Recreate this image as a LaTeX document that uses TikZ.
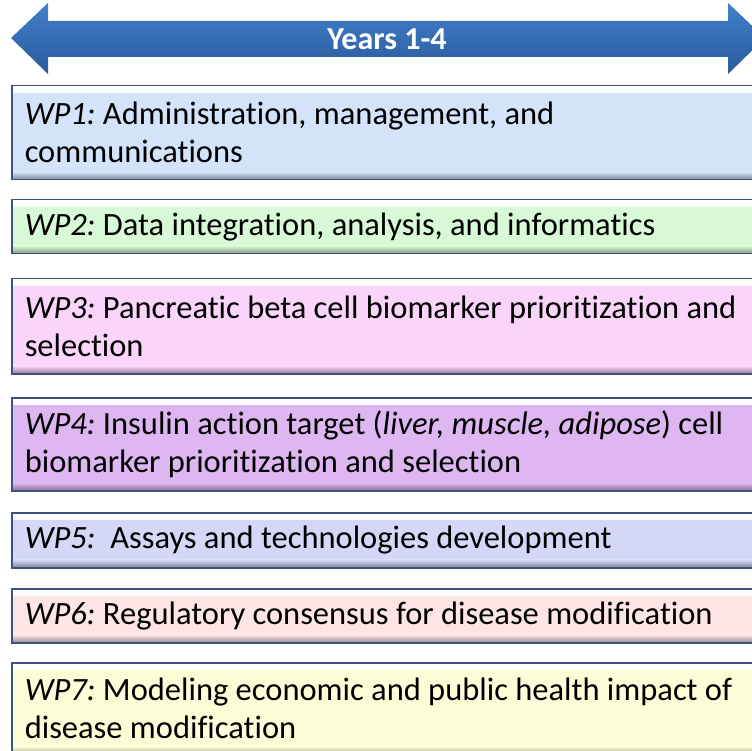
\documentclass[tikz,border=0pt]{standalone}
\usepackage{fontspec}
\setmainfont{Carlito}[Ligatures=NoCommon]
\usetikzlibrary{positioning}
\definecolor{wpborder}{HTML}{3C5384}
\definecolor{arrowtop}{HTML}{4080CC}
\definecolor{arrowbot}{HTML}{2A5A9C}
\definecolor{wpblue}{HTML}{D2E3FA}
\definecolor{wpgreen}{HTML}{D7F9D5}
\definecolor{wppink}{HTML}{FAD4FA}
\definecolor{wppurple}{HTML}{DDB6F2}
\definecolor{wplav}{HTML}{D5D7F7}
\definecolor{wprose}{HTML}{FDE5E5}
\definecolor{wpyellow}{HTML}{FCFDD6}

\tikzset{
  wpbox/.style={draw=wpborder,line width=1.5pt,fill=#1,anchor=north west,
    text width=730pt,align=left,inner ysep=0pt,inner xsep=13pt,
    font=\fontsize{32.5}{38}\selectfont,
    execute at begin node={\spaceskip=0.226em\xspaceskip=0.226em\relax},
    path picture={
      \shade[top color=white,bottom color=#1]
        (path picture bounding box.north west) rectangle ([yshift=-7pt]path picture bounding box.north east);
      \shade[top color=#1,bottom color=black!40!#1]
        ([yshift=8pt]path picture bounding box.south west) rectangle (path picture bounding box.south east);
    }},
  yearstext/.style={text=white,font=\fontsize{32}{36}\selectfont\bfseries}
}

\begin{document}
\begin{tikzpicture}[x=1pt,y=-1pt]
  \useasboundingbox (0,0) rectangle (752,751);
  \clip (0,0) rectangle (752,751);

  % double arrow on top
  \shade[top color=arrowtop,bottom color=arrowbot]
    (11,38) -- (48,3) -- (48,21) -- (728,21) -- (728,3) -- (765,38)
    -- (728,74) -- (728,57) -- (48,57) -- (48,74) -- cycle;
  \node (years) [yearstext] at (387,39) {Years 1-4};

  % work packages
  \node (wp1) [wpbox=wpblue,minimum height=94pt] at (11,85)
    {\textit{WP1:} Administration, management, and\\communications};
  \node (wp2) [wpbox=wpgreen,minimum height=54pt] at (11,199)
    {\textit{WP2:} Data integration, analysis, and informatics};
  \node (wp3) [wpbox=wppink,minimum height=95pt] at (11,278)
    {\textit{WP3:} Pancreatic beta cell biomarker prioritization and\\selection};
  \node (wp4) [wpbox=wppurple,minimum height=93pt] at (11,397)
    {\textit{WP4:} Insulin action target (\textit{liver, muscle, adipose}) cell\\biomarker prioritization and selection};
  \node (wp5) [wpbox=wplav,minimum height=55pt] at (11,512)
    {\textit{WP5:}\ \ Assays and technologies development};
  \node (wp6) [wpbox=wprose,minimum height=54pt] at (11,588)
    {\textit{WP6:} Regulatory consensus for disease modification};
  \node (wp7) [wpbox=wpyellow,minimum height=92pt] at (11,662)
    {\textit{WP7:} Modeling economic and public health impact of\\disease modification};
\end{tikzpicture}
\end{document}
